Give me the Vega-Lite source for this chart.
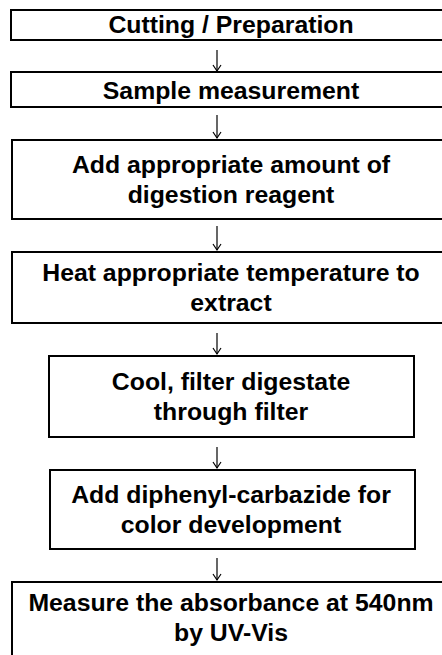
{
  "$schema": "https://vega.github.io/schema/vega-lite/v6.json",
  "width": 442,
  "height": 655,
  "autosize": {"type": "none"},
  "padding": 0,
  "background": "white",
  "config": {"view": {"stroke": null}},
  "datasets": {
    "boxes": [
      {"step": 1, "left": 11, "right": 451, "top": 10, "bottom": 40, "baseline": 33, "label": "Cutting / Preparation"},
      {"step": 2, "left": 11, "right": 451, "top": 72, "bottom": 107, "baseline": 98.5, "label": "Sample measurement"},
      {"step": 3, "left": 12, "right": 451, "top": 140, "bottom": 219, "baseline": 173, "label": "Add appropriate amount of|digestion reagent"},
      {"step": 4, "left": 12, "right": 451, "top": 252, "bottom": 323, "baseline": 280.5, "label": "Heat appropriate temperature to|extract"},
      {"step": 5, "left": 49, "right": 414, "top": 356, "bottom": 437, "baseline": 389.5, "label": "Cool, filter digestate|through filter"},
      {"step": 6, "left": 50, "right": 415, "top": 470, "bottom": 549, "baseline": 503, "label": "Add diphenyl-carbazide for|color development"},
      {"step": 7, "left": 12, "right": 451, "top": 582, "bottom": 680, "baseline": 611, "label": "Measure the absorbance at 540nm|by UV-Vis"}
    ],
    "arrows": [
      {"from": 1, "x": 217, "start": 50, "tip": 71},
      {"from": 2, "x": 217, "start": 115, "tip": 138},
      {"from": 3, "x": 217, "start": 226, "tip": 250},
      {"from": 4, "x": 217, "start": 333, "tip": 354},
      {"from": 5, "x": 217, "start": 447, "tip": 468},
      {"from": 6, "x": 217, "start": 558, "tip": 580}
    ]
  },
  "layer": [
    {
      "data": {"name": "boxes"},
      "mark": {"type": "rect", "fill": "white", "stroke": "black", "strokeWidth": 2},
      "encoding": {
        "x": {"field": "left", "type": "quantitative", "scale": {"domain": [0, 442], "nice": false, "zero": false}, "axis": null},
        "x2": {"field": "right"},
        "y": {"field": "top", "type": "quantitative", "scale": {"domain": [0, 655], "nice": false, "zero": false, "reverse": true}, "axis": null},
        "y2": {"field": "bottom"}
      }
    },
    {
      "data": {"name": "boxes"},
      "mark": {"type": "text", "font": "Liberation Sans", "fontWeight": "bold", "fontSize": 24.8, "lineHeight": 30, "lineBreak": "|", "align": "center", "baseline": "alphabetic", "color": "black"},
      "encoding": {
        "x": {"datum": 231, "type": "quantitative"},
        "y": {"field": "baseline", "type": "quantitative"},
        "text": {"field": "label"}
      }
    },
    {
      "data": {"name": "arrows"},
      "mark": {"type": "rule", "color": "black", "strokeWidth": 1.2},
      "encoding": {
        "x": {"field": "x", "type": "quantitative"},
        "y": {"field": "start", "type": "quantitative"},
        "y2": {"field": "tip"}
      }
    },
    {
      "data": {"name": "arrows"},
      "mark": {"type": "point", "shape": "M-1,-1.5L0,0L1,-1.5", "size": 64, "filled": false, "stroke": "black", "strokeWidth": 1.2, "opacity": 1},
      "encoding": {
        "x": {"field": "x", "type": "quantitative"},
        "y": {"field": "tip", "type": "quantitative"}
      }
    }
  ]
}
